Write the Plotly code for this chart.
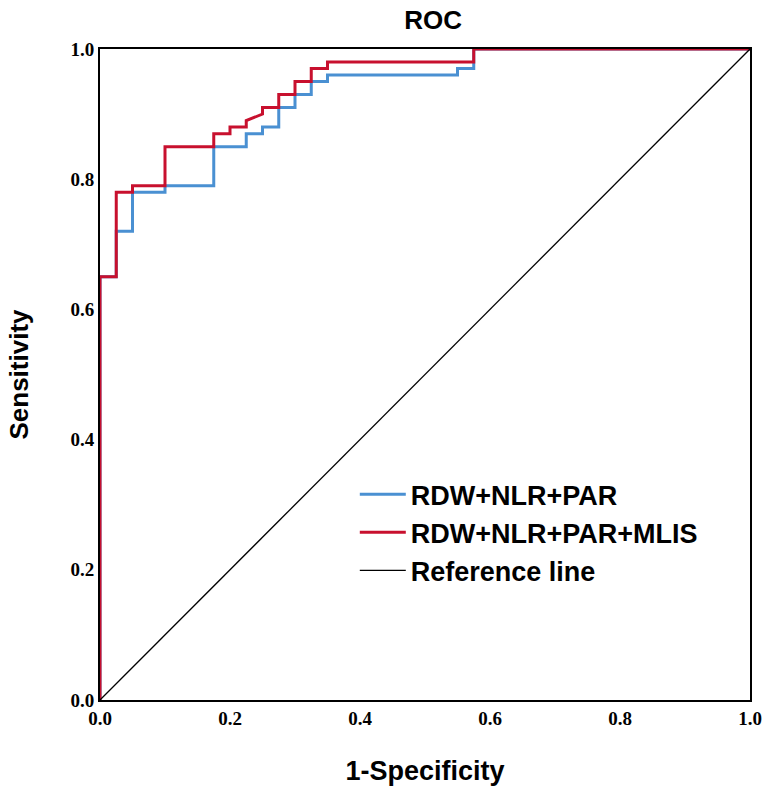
import plotly.graph_objects as go

# ROC step curves (1-Specificity, Sensitivity)
fpr_base = [0, 0, 0.025, 0.025, 0.05, 0.05, 0.1, 0.1, 0.175, 0.175, 0.225, 0.225, 0.25, 0.25,
            0.275, 0.275, 0.3, 0.3, 0.325, 0.325, 0.35, 0.35, 0.55, 0.55, 0.575, 0.575, 1.0]
tpr_base = [0, 0.65, 0.65, 0.72, 0.72, 0.78, 0.78, 0.79, 0.79, 0.85, 0.85, 0.87, 0.87, 0.88,
            0.88, 0.91, 0.91, 0.93, 0.93, 0.95, 0.95, 0.96, 0.96, 0.97, 0.97, 1.0, 1.0]

fpr_mlis = [0, 0, 0.025, 0.025, 0.05, 0.05, 0.1, 0.1, 0.175, 0.175, 0.2, 0.2, 0.225, 0.225,
            0.25, 0.25, 0.275, 0.275, 0.3, 0.3, 0.325, 0.325, 0.35, 0.35, 0.575, 0.575, 1.0]
tpr_mlis = [0, 0.65, 0.65, 0.78, 0.78, 0.79, 0.79, 0.85, 0.85, 0.87, 0.87, 0.88, 0.88, 0.89,
            0.90, 0.91, 0.91, 0.93, 0.93, 0.95, 0.95, 0.97, 0.97, 0.98, 0.98, 1.0, 1.0]

ref_x = [0, 1]
ref_y = [0, 1]

tick_vals = [0.0, 0.2, 0.4, 0.6, 0.8, 1.0]
tick_text = ["0.0", "0.2", "0.4", "0.6", "0.8", "1.0"]

fig = go.Figure()
fig.add_trace(go.Scatter(x=fpr_base, y=tpr_base, mode="lines", name="RDW+NLR+PAR",
                         line=dict(color="#4a90d2", width=3)))
fig.add_trace(go.Scatter(x=fpr_mlis, y=tpr_mlis, mode="lines", name="RDW+NLR+PAR+MLIS",
                         line=dict(color="#c8102e", width=3)))
fig.add_trace(go.Scatter(x=ref_x, y=ref_y, mode="lines", name="Reference line",
                         line=dict(color="black", width=1.3)))

tickfont = dict(family="Liberation Serif", size=19, color="black")
axis_common = dict(range=[0, 1], tickvals=tick_vals,
                   ticktext=["<b>" + t + "</b>" for t in tick_text], showgrid=False,
                   zeroline=False, showline=True, linecolor="black", linewidth=2,
                   mirror=True, ticks="", tickfont=tickfont, automargin=False)

fig.update_layout(
    width=764, height=786,
    paper_bgcolor="white", plot_bgcolor="white",
    margin=dict(l=100, r=14, t=49, b=86),
    title=dict(text="<b>ROC</b>", x=0.567, xanchor="center", y=0.9746, yanchor="middle",
               font=dict(family="Liberation Sans", size=26, color="black")),
    xaxis=dict(**axis_common,
               title=dict(text="<b>1-Specificity</b>", standoff=33,
                          font=dict(family="Liberation Sans", size=27, color="black"))),
    yaxis=dict(**axis_common,
               title=dict(text="<b>Sensitivity</b>", standoff=34,
                          font=dict(family="Liberation Sans", size=26, color="black"))),
    legend=dict(x=0.392, y=0.353, xanchor="left", yanchor="top",
                bgcolor="rgba(0,0,0,0)", borderwidth=0,
                font=dict(family="Liberation Sans", size=27, color="black"),
                itemwidth=46, tracegroupgap=0),
    showlegend=True,
)
for tr in fig.data:
    tr.name = "<b>" + tr.name + "</b>"

fig.write_html("out.html", config={"displayModeBar": False},
               post_script="document.body.style.margin='0';")
